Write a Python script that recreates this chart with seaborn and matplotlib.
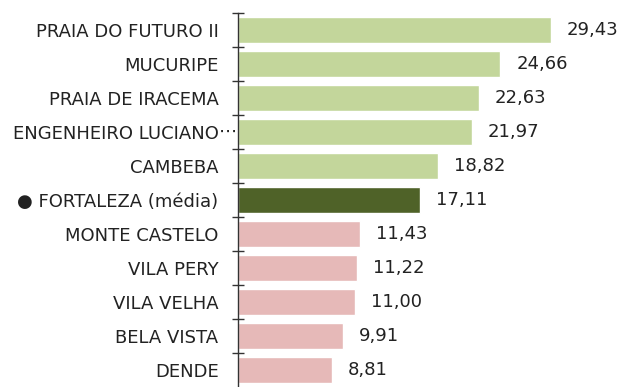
import matplotlib
matplotlib.use("Agg")
import matplotlib.pyplot as plt
import seaborn as sns
import pandas as pd
import numpy as np

bairros = ["PRAIA DO FUTURO II", "MUCURIPE", "PRAIA DE IRACEMA",
           "ENGENHEIRO LUCIANO⋯", "CAMBEBA", "● FORTALEZA (média)",
           "MONTE CASTELO", "VILA PERY", "VILA VELHA", "BELA VISTA", "DENDE"]
valores = [29.43, 24.66, 22.63, 21.97, 18.82, 17.11,
           11.43, 11.22, 11.00, 9.91, 8.81]
grupos = ["acima", "acima", "acima", "acima", "acima", "media",
          "abaixo", "abaixo", "abaixo", "abaixo", "abaixo"]

cores = {"acima": "#C3D69B", "media": "#4F6228", "abaixo": "#E6B9B8"}

df = pd.DataFrame({"bairro": bairros, "valor": valores, "grupo": grupos})

sns.set_theme(style="white")
plt.rcParams["font.family"] = ["DejaVu Sans", "Noto Sans CJK JP"]

fig = plt.figure(figsize=(6.23, 3.87), dpi=100)
ax = fig.add_axes([238 / 623, 0.0, 1 - 238 / 623, 1 - 13 / 387])

sns.barplot(data=df, x="valor", y="bairro", hue="grupo", palette=cores,
            dodge=False, legend=False, width=0.76, saturation=1, ax=ax)

for cont in ax.containers:
    ax.bar_label(cont, labels=[f"{v:.2f}".replace(".", ",") for v in cont.datavalues],
                 padding=11.5, fontsize=13, color="#222222")

n = len(bairros)
ax.set_ylim(n - 0.5, -0.5)
ax.set_xlim(0, 36.2)
ax.set_xlabel("")
ax.set_ylabel("")
ax.set_xticks([])
for s in ["top", "right", "bottom"]:
    ax.spines[s].set_visible(False)
ax.spines["left"].set_color("#333333")
ax.spines["left"].set_linewidth(1.0)

# truncated names: the trailing dots run past the label edge up to the axis
rotulos = [b.rstrip("⋯") for b in bairros]
ax.set_yticks(range(n))
ax.set_yticklabels(rotulos)
ax.tick_params(axis="y", which="major", length=0, pad=14, labelsize=13,
               labelcolor="#222222")
for i, b in enumerate(bairros):
    if b.endswith("⋯"):
        ax.annotate("⋯", xy=(0, i), xycoords=("axes fraction", "data"),
                    xytext=(-13.5, 0), textcoords="offset points",
                    ha="left", va="center", fontsize=13, color="#222222")

ax.set_yticks(np.arange(-0.5, n - 0.5, 1.0), minor=True)
ax.tick_params(axis="y", which="minor", direction="inout", length=8,
               width=1.0, color="#333333", left=True)

fig.savefig("out.png", dpi=100)
